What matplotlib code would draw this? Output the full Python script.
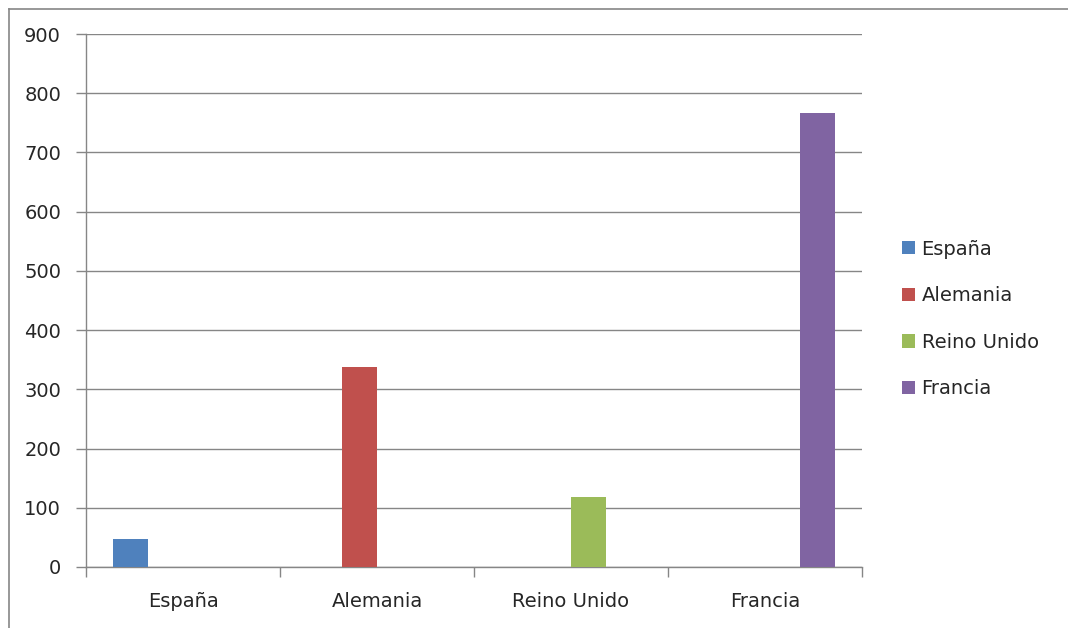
import numpy as np
import matplotlib
matplotlib.use('Agg')
import matplotlib.pyplot as plt
from matplotlib.lines import Line2D
from matplotlib.patches import Patch

plt.rcParams['font.family'] = ['DejaVu Sans']

categorias = ['España', 'Alemania', 'Reino Unido', 'Francia']
series = ['España', 'Alemania', 'Reino Unido', 'Francia']
espana = [48, 0, 0, 0]
alemania = [0, 338, 0, 0]
reino_unido = [0, 0, 119, 0]
francia = [0, 0, 0, 767]
colores = ['#4F81BD', '#C0504D', '#9BBB59', '#8064A2']

valores = [espana, alemania, reino_unido, francia]

fig = plt.figure(figsize=(10.68, 6.28), dpi=100)
ax = fig.add_axes([86 / 1068, 1 - 567 / 628, (862 - 86) / 1068, (567 - 34) / 628])

x = np.arange(len(categorias))
w = 0.18
for i, (nombre, vals, c) in enumerate(zip(series, valores, colores)):
    ax.bar(x + (i - 1.5) * w, vals, width=w, color=c, label=nombre, zorder=3)

gris = '#868686'
texto = '#262626'
fs = 14
ax.set_ylim(0, 900)
ax.set_xlim(-0.5, 3.5)
ax.set_yticks(np.arange(0, 901, 100))
ax.yaxis.grid(True, color=gris, lw=1)
ax.set_axisbelow(True)
for s in ['top', 'right']:
    ax.spines[s].set_visible(False)
for s in ['left', 'bottom']:
    ax.spines[s].set_color(gris)
    ax.spines[s].set_linewidth(1)

ax.set_xticks(x)
ax.set_xticklabels(categorias)
ax.set_xticks(np.arange(-0.5, 3.6, 1), minor=True)
ax.tick_params(axis='x', which='major', length=0, pad=18, labelsize=fs, colors=texto)
ax.tick_params(axis='x', which='minor', length=7, color=gris, width=1)
ax.tick_params(axis='y', length=7, color=gris, width=1, pad=11, labelsize=fs, labelcolor=texto)

handles = [Patch(facecolor=c, edgecolor='none') for c in colores]
fig.legend(handles, series, loc='center left', bbox_to_anchor=(884 / 1068, 1 - 319 / 628),
           frameon=False, fontsize=fs, labelspacing=1.42, handlelength=0.67,
           handleheight=0.67, handletextpad=0.36, labelcolor=texto)

# marco del gráfico
fig.add_artist(Line2D([9 / 1068, 1], [1 - 9 / 628, 1 - 9 / 628], color=gris, lw=1.2))
fig.add_artist(Line2D([9 / 1068, 9 / 1068], [0, 1 - 9 / 628], color=gris, lw=1.2))

fig.savefig('out.png', dpi=100)
